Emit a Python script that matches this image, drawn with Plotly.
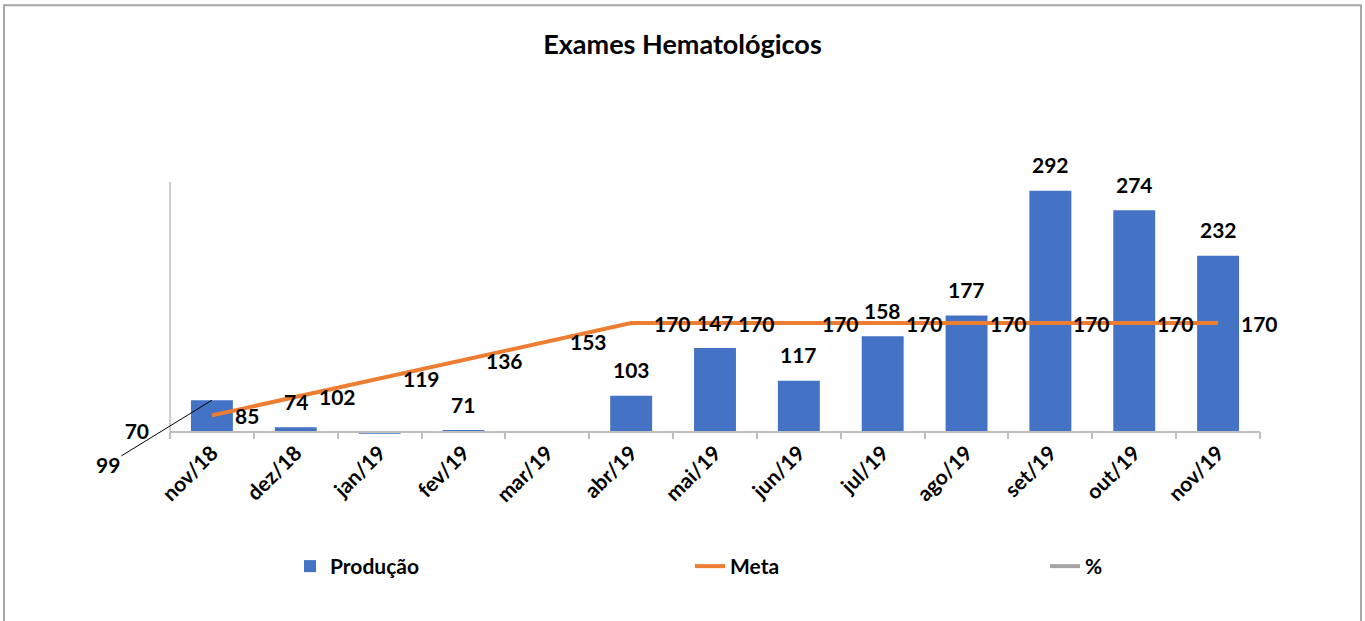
import plotly.graph_objects as go

categorias = ["nov/18", "dez/18", "jan/19", "fev/19", "mar/19", "abr/19", "mai/19",
              "jun/19", "jul/19", "ago/19", "set/19", "out/19", "nov/19"]
producao = [99, 74, 68, 71, 69, 103, 147, 117, 158, 177, 292, 274, 232]
meta = [85, 102, 119, 136, 153, 170, 170, 170, 170, 170, 170, 170, 170]
percentual = [None] * 13
# labels of bars hidden by Excel (below axis minimum)
rotulo_producao = ["", "74", "", "71", "", "103", "147", "117", "158", "177", "292", "274", "232"]

W, H = 1365, 621
ML, MR, MT = 170, 105, 182
Y_MIN_AXIS, Y_LOW, Y_TOP = 70, 66, 300
PX_PER_UNIT = (432 - MT) / (Y_TOP - Y_MIN_AXIS)
PLOT_BOTTOM = 432 + (Y_MIN_AXIS - Y_LOW) * PX_PER_UNIT
MB = H - PLOT_BOTTOM
PW = W - ML - MR
PH = PLOT_BOTTOM - MT

FONT = "Lato"
AXIS_GRAY = "#bfbfbf"

def px_to_paper_x(px):
    return (px - ML) / PW

def px_to_paper_y(py):
    return (PLOT_BOTTOM - py) / PH

fig = go.Figure()
# Excel draws the columns from the point where the horizontal axis crosses (70)
fig.add_trace(go.Bar(
    x=categorias, y=[v - Y_MIN_AXIS for v in producao], base=Y_MIN_AXIS, name="Produção",
    marker=dict(color="#4472C4", line=dict(width=0)),
    customdata=producao, hovertemplate="%{x}: %{customdata}<extra></extra>",
    legend="legend",
))
fig.add_trace(go.Scatter(
    x=categorias, y=meta, name="Meta", mode="lines",
    line=dict(color="#ED7D31", width=4),
    legend="legend2",
))
fig.add_trace(go.Scatter(
    x=categorias, y=percentual, name="%", mode="lines",
    line=dict(color="#A5A5A5", width=4),
    legend="legend3",
))

lab_font = dict(family=FONT, size=21, color="black", weight="bold")
annotations = []
for c, v, t in zip(categorias, producao, rotulo_producao):
    if t:
        annotations.append(dict(x=c, y=v, text=t, showarrow=False, xanchor="center",
                                yanchor="middle", yshift=26, font=lab_font))
for c, v in zip(categorias, meta):
    annotations.append(dict(x=c, y=v, text=str(v), showarrow=False, xanchor="left",
                            yanchor="middle", xshift=21, font=lab_font))
# nov/18 production label moved out with a leader line
annotations.append(dict(x=categorias[0], y=producao[0], text=str(producao[0]),
                        showarrow=True, arrowhead=0, arrowwidth=1, arrowcolor="black",
                        ax=-104, ay=64, standoff=0, font=lab_font))

shapes = [
    # vertical axis line (from axis minimum to top)
    dict(type="line", xref="paper", yref="y", x0=0, x1=0, y0=Y_MIN_AXIS, y1=Y_TOP,
         line=dict(color=AXIS_GRAY, width=1.5)),
    # chart border
    dict(type="rect", xref="paper", yref="paper",
         x0=px_to_paper_x(4), x1=px_to_paper_x(1361),
         y0=px_to_paper_y(640), y1=px_to_paper_y(5),
         line=dict(color="#a6a6a6", width=2), fillcolor="rgba(0,0,0,0)", layer="below"),
]

leg_font = dict(family=FONT, size=21, color="black", weight="bold")
fig.update_layout(
    width=W, height=H,
    margin=dict(l=ML, r=MR, t=MT, b=MB, pad=0),
    paper_bgcolor="white", plot_bgcolor="white",
    title=dict(text="Exames Hematológicos", x=0.5, xanchor="center",
               y=1 - 45 / H, yanchor="middle",
               font=dict(family=FONT, size=27, color="black", weight="bold")),
    bargap=0.5,
    showlegend=True,
    legend=dict(x=px_to_paper_x(290), y=px_to_paper_y(567), xanchor="left", yanchor="middle",
                orientation="h", font=leg_font, bgcolor="rgba(0,0,0,0)"),
    legend2=dict(x=px_to_paper_x(690), y=px_to_paper_y(567), xanchor="left", yanchor="middle",
                 orientation="h", font=leg_font, bgcolor="rgba(0,0,0,0)"),
    legend3=dict(x=px_to_paper_x(1045), y=px_to_paper_y(567), xanchor="left", yanchor="middle",
                 orientation="h", font=leg_font, bgcolor="rgba(0,0,0,0)"),
    xaxis=dict(
        type="category", categoryorder="array", categoryarray=categorias,
        range=[-0.5, len(categorias) - 0.5], autorange=False,
        anchor="free", position=(Y_MIN_AXIS - Y_LOW) / (Y_TOP - Y_LOW),
        showline=True, linecolor=AXIS_GRAY, linewidth=1.5,
        ticks="outside", tickson="boundaries", ticklen=7, tickcolor=AXIS_GRAY, tickwidth=1.5,
        tickangle=-45, tickfont=dict(family=FONT, size=21, color="black", weight="bold"),
        showgrid=False, zeroline=False,
    ),
    yaxis=dict(
        range=[Y_LOW, Y_TOP], autorange=False, showline=False, showgrid=False, zeroline=False,
        tickvals=[Y_MIN_AXIS], ticktext=[str(Y_MIN_AXIS)], ticks="",
        ticklabelstandoff=20,
        tickfont=lab_font,
    ),
    annotations=annotations,
    shapes=shapes,
)

fig.write_html("out.html", config={"displayModeBar": False},
               post_script="document.body.style.margin='0';")
